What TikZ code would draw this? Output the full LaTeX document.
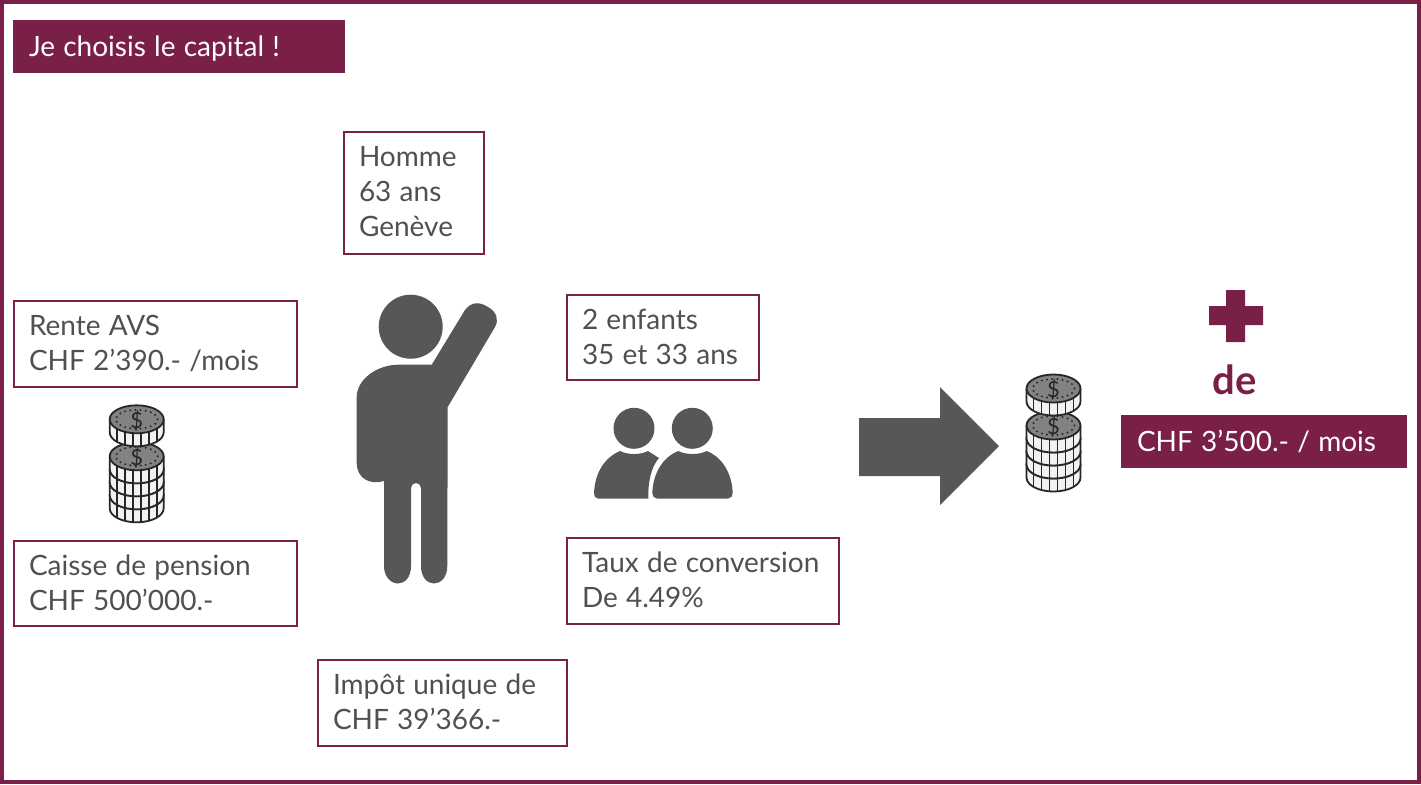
\documentclass[tikz,border=0pt]{standalone}
\usepackage{fontspec}
\setmainfont[WordSpace=1.15]{Lato}
\definecolor{wine}{HTML}{7A1F47}
\definecolor{ink}{HTML}{505050}
\definecolor{icon}{HTML}{575757}
\definecolor{coinface}{HTML}{828282}
\tikzset{
  infobox/.style={draw=wine, line width=.75pt, outer sep=0pt, text=ink, anchor=north west, align=flush left, inner xsep=7.5pt, inner ysep=0pt,
    font=\fontsize{14}{17.5}\selectfont, execute at end node={\par\vspace{1pt}}},
  fillbox/.style={fill=wine, outer sep=0pt, text=white, anchor=north west, align=flush left, inner xsep=8pt, inner ysep=0pt,
    font=\fontsize{14}{17.5}\selectfont},
  pics/coin/.style={code={
    \fill[white!95!black] (-27,0) -- (-27,13) arc[start angle=180, end angle=0, x radius=27, y radius=14] -- (27,0) -- cycle;
    \foreach \t in {-20,-12,-4,4,12,20} {
      \draw[line width=.8pt, black!85] (\t,{14*sqrt(1-(\t/27)^2)}) -- ++(0,13);
    }
    \draw[line width=.9pt, black!85] (-27,0) -- (-27,13) arc[start angle=180, end angle=0, x radius=27, y radius=14] -- (27,0);
    \draw[line width=.9pt, black!85, fill=coinface] (0,0) circle[x radius=27, y radius=14];
  }},
  pics/dollar/.style={code={
    \draw[line width=1.1pt, black!85, line cap=round, dash pattern=on 0pt off 2.6pt] (0,0) circle[x radius=21, y radius=9.5];
    \node[text=black!85, font=\fontsize{11}{11}\selectfont] (dollarsign) at (0,1) {\$};
  }},
  pics/coinstack/.style={code={
    % bottom coin first
    \foreach \y in {76,63,50,37} {
      \pic at (0,\y) {coin};
    }
    \pic at (0,37) {dollar};
    \pic at (0,0) {coin};
    \pic at (0,0) {dollar};
  }}
}

\begin{document}
\begin{tikzpicture}[x=0.5pt, y=-0.5pt]
\useasboundingbox (0,0) rectangle (1421,784);
\draw[wine, line width=1.75pt] (2,2) rectangle (1419,782);

% Boxes
\foreach \x/\y/\w/\h/\name/\txt in {
    14/301/283/86/rente/{Rente AVS\\CHF 2’390.- /mois},
    14/541/283/85/caisse/{Caisse de pension\\CHF 500’000.-},
    344/132/140/122/homme/{Homme\\63 ans\\Genève},
    318/660/249/86/impot/{Impôt unique de\\CHF 39’366.-},
    567/295/192/85/enfants/{2 enfants\\35 et 33 ans},
    567/538/272/86/taux/{Taux de conversion\\De 4.49\%}
} {
    \node[infobox, minimum width=\w*0.5pt, minimum height=\h*0.5pt, text width=\w*0.5pt-15pt] (\name) at (\x,\y) {\txt};
}
\node[fillbox, minimum width=166pt, minimum height=26.5pt, text width=150pt] (titre) at (13,20) {\raisebox{-1pt}[\height][\depth]{Je choisis le capital !}};
\node[fillbox, minimum width=143pt, minimum height=26.5pt, text width=127pt] (montant) at (1121,415) {CHF 3’500.- / mois};

% Person
\fill[icon] (410.7,326.7) circle[radius=32];
\fill[icon] (431.7,364.7) -- (465,310) .. controls (472,301) and (480,302) .. (488,307)
  .. controls (497,312) and (499,320) .. (495,327) -- (447.7,407) -- (447.3,566)
  .. controls (447.3,577) and (441,583.5) .. (434,583.5) .. controls (427,583.5) and (421,577) .. (421,566)
  -- (421,488) .. controls (421,485) and (418.5,483) .. (416,483) .. controls (413.5,483) and (411,485) .. (411,488)
  -- (411,566) .. controls (411,577) and (405,583.5) .. (398,583.5) .. controls (391,583.5) and (384,577) .. (384,566)
  -- (384,481) .. controls (380,482) and (376,482.5) .. (373,482) .. controls (363,481) and (356.7,473) .. (356.7,463)
  -- (356.7,397) .. controls (356.7,380) and (376,365) .. (398,364.7) -- cycle;

% Children
\fill[icon] (634,428.3) circle[radius=20.5];
\fill[icon] (692.3,428.3) circle[radius=20.5];
\fill[icon] (620,451) .. controls (628,455) and (640,455) .. (648,451) -- (659,458)
  .. controls (651,467) and (648,482) .. (648.3,498.5) -- (598,498.5) .. controls (595,498.5) and (594,496) .. (594,493)
  .. controls (595,473) and (604,458) .. (620,451) -- cycle;
\fill[icon] (678.3,451) .. controls (686,455) and (699,455) .. (706.7,451)
  .. controls (722,457) and (732,473) .. (732.7,493) .. controls (732.7,496) and (731,498.5) .. (728,498.5)
  -- (657,498.5) .. controls (654,498.5) and (652.3,496) .. (652.3,493) .. controls (653,473) and (663,457) .. (678.3,451) -- cycle;

% Big arrow and plus
\fill[icon] (859,418) -- (940,418) -- (940,387) -- (999,446) -- (940,505) -- (940,476) -- (859,476) -- cycle;
\fill[wine] (1226,290) -- (1245,290) -- (1245,306) -- (1263,306) -- (1263,325) -- (1245,325) -- (1245,342)
  -- (1226,342) -- (1226,325) -- (1209,325) -- (1209,306) -- (1226,306) -- cycle;
\node[text=wine, font=\fontsize{20}{22}\selectfont\bfseries] (de) at (1235,380) {de};

% Coins
\pic at (136.7,419.3) {coinstack};
\pic at (1053.5,388.5) {coinstack};
\end{tikzpicture}
\end{document}
